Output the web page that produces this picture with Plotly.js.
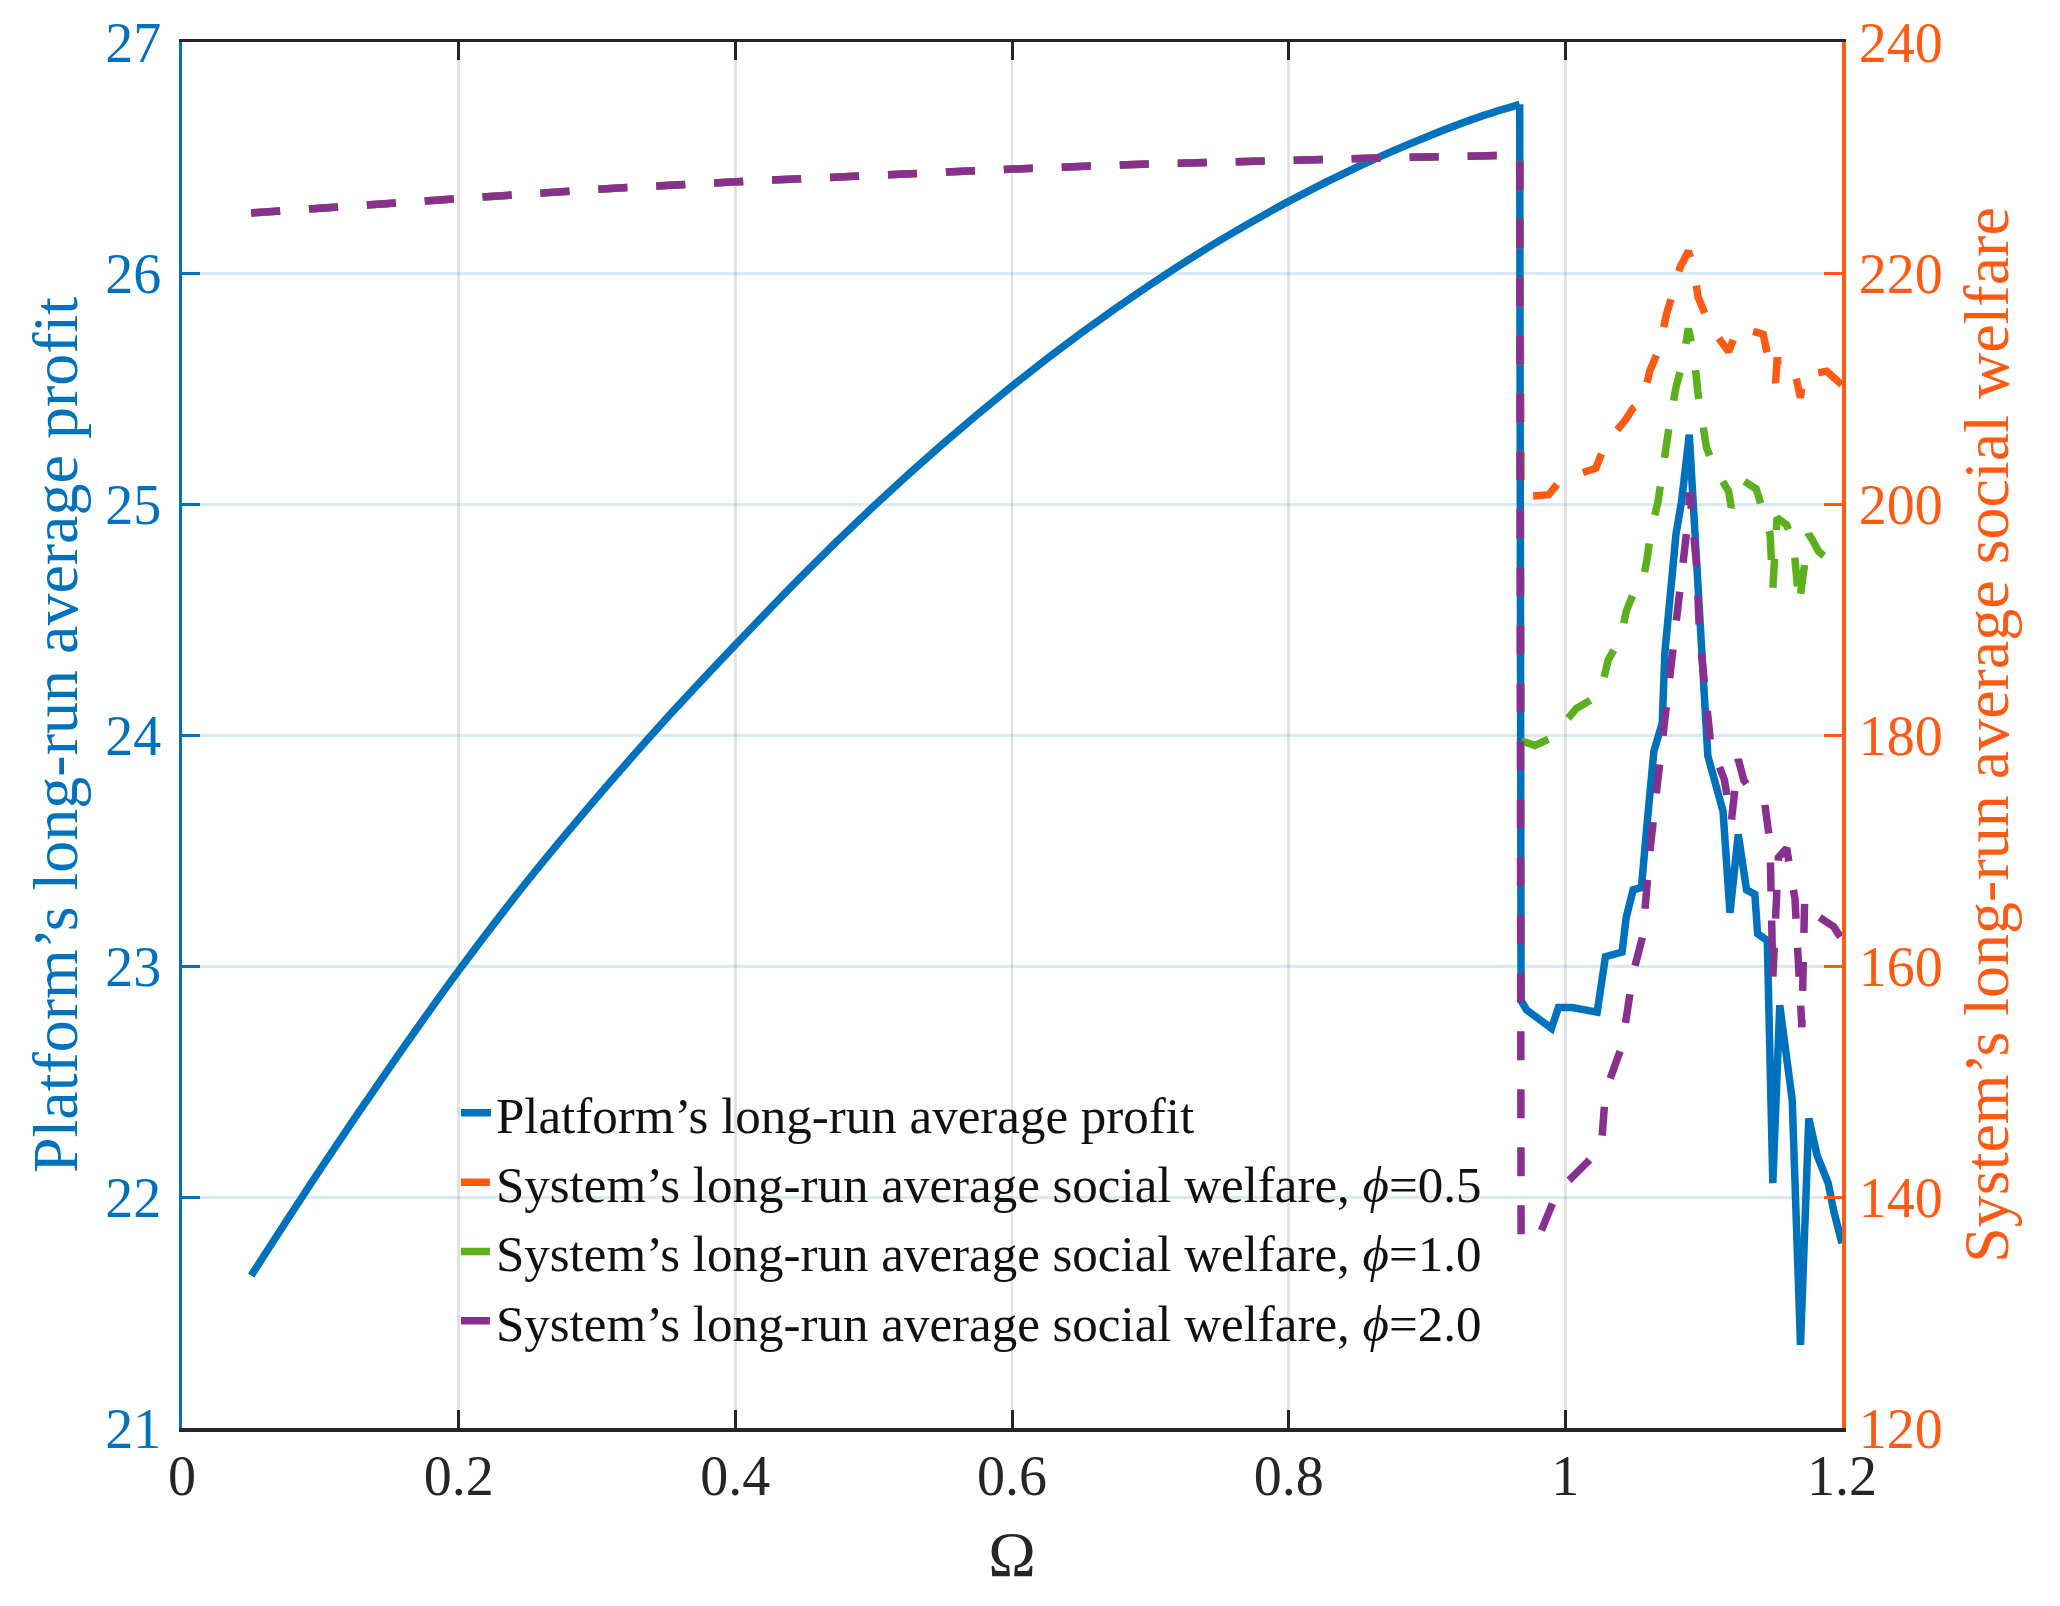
<!DOCTYPE html>
<html>
<head>
<meta charset="utf-8">
<script src="https://cdn.plot.ly/plotly-3.0.1.min.js"></script>
<style>
  body { margin: 0; background: #fff; }
  #plot { width: 2060px; height: 1606px; }
</style>
</head>
<body>
<div id="plot"></div>
<script>
// platform profit (left axis), smooth rising part
let omegaProfitRise = [0.05, 0.1, 0.15, 0.2, 0.25, 0.3, 0.35, 0.4, 0.45, 0.5, 0.55, 0.6, 0.65, 0.7, 0.75, 0.8, 0.85, 0.9, 0.94, 0.967];
let profitRise = [21.66, 22.12, 22.56, 22.98, 23.37, 23.73, 24.07, 24.39, 24.7, 24.99, 25.26, 25.51, 25.74, 25.95, 26.14, 26.31, 26.46, 26.59, 26.68, 26.73];

// platform profit after the jump
let omegaProfitJump = [0.967, 0.968, 0.972, 0.99, 0.995, 1.005, 1.023, 1.029, 1.041, 1.044, 1.049, 1.055, 1.059, 1.064, 1.07, 1.072,
  1.08, 1.084, 1.0896, 1.0925, 1.0985, 1.103, 1.114, 1.119, 1.125, 1.131, 1.137, 1.139, 1.146, 1.15, 1.155, 1.164, 1.17, 1.176,
  1.182, 1.19, 1.194, 1.2];
let profitJump = [26.73, 22.85, 22.81, 22.73, 22.82, 22.82, 22.8, 23.04, 23.06, 23.21, 23.33, 23.34, 23.61, 23.93, 24.05, 24.36,
  24.87, 25.01, 25.3, 25.01, 24.36, 23.91, 23.67, 23.23, 23.57, 23.33, 23.31, 23.14, 23.11, 22.06, 22.83, 22.42, 21.36, 22.34,
  22.18, 22.06, 21.94, 21.8];

// social welfare, shared part before the jump (same for every phi)
let omegaShared = [0.05, 0.1, 0.2, 0.3, 0.4, 0.5, 0.6, 0.7, 0.8, 0.9, 0.967];
let welfareShared = [225.2, 225.6, 226.5, 227.25, 227.9, 228.5, 229.0, 229.45, 229.8, 230.05, 230.2];

// phi = 0.5
let omegaPhi05 = [0.968, 0.988, 0.996, 1.002, 1.022, 1.024, 1.029, 1.043, 1.049, 1.056, 1.061, 1.068, 1.073, 1.078, 1.083, 1.089,
  1.093, 1.096, 1.105, 1.118, 1.125, 1.143, 1.146, 1.152, 1.153, 1.164, 1.166, 1.17, 1.172, 1.176, 1.189, 1.2];
let welfarePhi05 = [200.6, 200.8, 202.0, 202.3, 203.1, 203.7, 205.2, 207.2, 208.3, 208.9, 211.5, 213.5, 216.4, 218.4, 220.5, 221.9,
  220.2, 217.9, 215.3, 213.2, 215.3, 214.7, 213.0, 210.5, 212.4, 212.4, 211.2, 209.2, 211.2, 211.2, 211.5, 210.3];

// phi = 1.0
let omegaPhi10 = [0.968, 0.978, 0.989, 0.994, 1.008, 1.025, 1.031, 1.04, 1.044, 1.049, 1.055, 1.059, 1.062, 1.067, 1.07, 1.073,
  1.076, 1.08, 1.085, 1.089, 1.093, 1.096, 1.099, 1.102, 1.108, 1.118, 1.12, 1.129, 1.138, 1.143, 1.148, 1.15, 1.153, 1.16,
  1.165, 1.169, 1.172, 1.176, 1.179, 1.183, 1.2];
let welfarePhi10 = [179.5, 179.1, 179.7, 180.3, 182.3, 183.5, 186.5, 188.4, 190.7, 192.2, 192.6, 195.2, 197.7, 200.2, 202.6, 206.0,
  207.5, 210.1, 212.4, 215.2, 212.9, 209.5, 207.2, 204.9, 203.1, 201.1, 199.7, 202.0, 201.3, 199.4, 197.4, 192.7, 198.8, 198.2,
  196.5, 191.3, 193.6, 197.4, 196.8, 195.9, 194.2];

// phi = 2.0
let omegaPhi20 = [0.968, 0.974, 0.981, 0.994, 1.001, 1.015, 1.026, 1.029, 1.041, 1.049, 1.056, 1.061, 1.068, 1.076, 1.083, 1.088,
  1.09, 1.095, 1.097, 1.1, 1.105, 1.115, 1.12, 1.125, 1.129, 1.138, 1.144, 1.148, 1.15, 1.154, 1.16, 1.166, 1.171, 1.173,
  1.179, 1.189, 1.194, 1.2];
let welfarePhi20 = [136.4, 136.4, 136.6, 140.4, 141.2, 142.9, 144.3, 149.1, 153.1, 159.4, 162.6, 169.8, 177.3, 185.3, 193.0, 197.9,
  201.0, 194.5, 188.7, 185.3, 179.3, 176.1, 172.5, 177.9, 176.1, 174.6, 174.2, 170.6, 159.0, 169.4, 170.2, 165.8, 154.7, 165.8,
  164.6, 163.8, 163.4, 162.3];

let xTicks = [0, 0.2, 0.4, 0.6, 0.8, 1, 1.2];
let leftTicks = [21, 22, 23, 24, 25, 26, 27];
let rightTicks = [120, 140, 160, 180, 200, 220, 240];

let blue = '#0072BD';
let orange = '#FF5A14';
let green = '#5CB01E';
let purple = '#88308F';
let serif = 'Liberation Serif, Times New Roman, serif';
let dashStyle = '29px,29px';

function welfareTrace(xs, ys, name, color) {
  return {
    x: omegaShared.concat(xs),
    y: welfareShared.concat(ys),
    name: name,
    yaxis: 'y2',
    type: 'scatter',
    mode: 'lines',
    line: { color: color, width: 7.5, dash: dashStyle }
  };
}

let traces = [
  {
    x: omegaProfitRise,
    y: profitRise,
    name: 'Platform’s long-run average profit',
    legendgroup: 'profit',
    type: 'scatter',
    mode: 'lines',
    line: { color: blue, width: 7.5, shape: 'spline', smoothing: 0.8 }
  },
  {
    x: omegaProfitJump,
    y: profitJump,
    name: 'Platform’s long-run average profit',
    legendgroup: 'profit',
    showlegend: false,
    type: 'scatter',
    mode: 'lines',
    line: { color: blue, width: 7.5 }
  },
  welfareTrace(omegaPhi05, welfarePhi05, 'System’s long-run average social welfare, <i>ϕ</i>=0.5', orange),
  welfareTrace(omegaPhi10, welfarePhi10, 'System’s long-run average social welfare, <i>ϕ</i>=1.0', green),
  welfareTrace(omegaPhi20, welfarePhi20, 'System’s long-run average social welfare, <i>ϕ</i>=2.0', purple)
];

let layout = {
  width: 2060,
  height: 1606,
  margin: { l: 182, r: 218, t: 42, b: 178 },
  paper_bgcolor: '#fff',
  plot_bgcolor: '#fff',
  font: { family: serif, size: 56, color: '#262626' },
  showlegend: true,
  legend: {
    x: 0.165, y: 0.256, xanchor: 'left', yanchor: 'top',
    bgcolor: 'rgba(0,0,0,0)',
    font: { family: serif, size: 51, color: '#111' },
    tracegroupgap: 0
  },
  xaxis: {
    range: [0, 1.2],
    tickvals: xTicks,
    ticktext: xTicks.map(String),
    ticks: 'inside', ticklen: 18, tickwidth: 3, tickcolor: '#262626',
    showline: true, linecolor: '#262626', linewidth: 3.5, mirror: 'ticks',
    showgrid: true, gridcolor: '#E2E2E2', gridwidth: 2.5,
    zeroline: false,
    ticklabelstandoff: -4,
    tickfont: { family: serif, size: 56, color: '#262626' },
    title: { text: 'Ω', font: { family: serif, size: 64, color: '#262626' }, standoff: 26 }
  },
  yaxis: {
    range: [21, 27],
    tickvals: leftTicks,
    ticks: 'inside', ticklen: 18, tickwidth: 3, tickcolor: blue,
    showline: true, linecolor: blue, linewidth: 3.5,
    showgrid: true, gridcolor: 'rgba(0,114,189,0.15)', gridwidth: 3,
    zeroline: false,
    ticklabelstandoff: 6,
    tickfont: { family: serif, size: 56, color: blue },
    title: { text: 'Platform’s long-run average profit', font: { family: serif, size: 64, color: blue }, standoff: 8 }
  },
  yaxis2: {
    range: [120, 240],
    tickvals: rightTicks,
    overlaying: 'y', side: 'right',
    ticks: 'inside', ticklen: 18, tickwidth: 3, tickcolor: orange,
    showline: true, linecolor: orange, linewidth: 3.5,
    showgrid: false, zeroline: false,
    ticklabelstandoff: 2,
    tickfont: { family: serif, size: 56, color: orange },
    title: { text: 'System’s long-run average social welfare', font: { family: serif, size: 64, color: orange }, standoff: 22 }
  }
};

Plotly.newPlot('plot', traces, layout, { displayModeBar: false, staticPlot: true });
</script>
</body>
</html>
